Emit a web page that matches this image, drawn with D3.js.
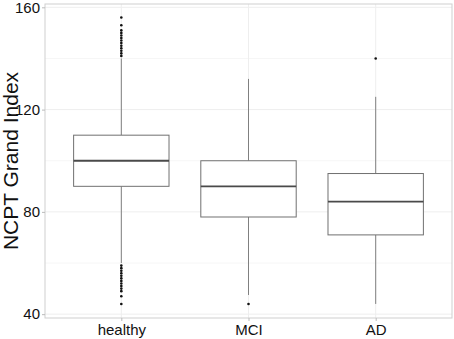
<!DOCTYPE html>
<html lang="en">
  <head>
    <meta charset="utf-8">
    <title>NCPT boxplot</title>
    <script src="https://cdn.jsdelivr.net/npm/d3@7"></script>
    <style>
      body { margin: 0; background: #fff; }
      text { font-family: "Liberation Sans", Arial, sans-serif; }
    </style>
  </head>
  <body>
    <script>
    // groups and their box statistics
    var groups = ["healthy", "MCI", "AD"];
    var lowerWhisker = [60, 47.5, 44];
    var q1 = [90, 78, 71];
    var median = [100, 90, 84];
    var q3 = [110, 100, 95];
    var upperWhisker = [140, 132, 125];
    var outliers = [
      [141, 142, 143, 144, 145, 146, 147, 148, 149, 150, 151, 153, 156,
       59, 58, 57, 56, 55, 54, 53, 52, 51, 50, 49, 47, 44],
      [44],
      [140]
    ];
    var yTicks = [40, 80, 120, 160];
    var yMinorTicks = [60, 100, 140];

    var w = 454, h = 339;
    // panel edges (note: "top" is a reserved window property, so use other names)
    var panelLeft = 45, panelRight = 452, panelTop = 4, panelBottom = 318;

    var svg = d3.select("body").append("svg")
      .attr("width", w)
      .attr("height", h);

    var xScale = d3.scalePoint()
      .domain(groups)
      .range([panelLeft, panelRight])
      .padding(0.6);

    var yScale = d3.scaleLinear()
      .domain([38.5, 161.3])
      .range([panelBottom, panelTop]);

    var boxW = xScale.step() * 0.75;

    // grid
    svg.selectAll(".minor")
      .data(yMinorTicks).enter().append("line")
      .attr("x1", panelLeft).attr("x2", panelRight)
      .attr("y1", function(d) { return yScale(d); })
      .attr("y2", function(d) { return yScale(d); })
      .attr("stroke", "#f6f6f6").attr("stroke-width", 1);

    svg.selectAll(".major")
      .data(yTicks).enter().append("line")
      .attr("x1", panelLeft).attr("x2", panelRight)
      .attr("y1", function(d) { return yScale(d); })
      .attr("y2", function(d) { return yScale(d); })
      .attr("stroke", "#eeeeee").attr("stroke-width", 1);

    svg.selectAll(".vgrid")
      .data(groups).enter().append("line")
      .attr("x1", function(d) { return xScale(d); })
      .attr("x2", function(d) { return xScale(d); })
      .attr("y1", panelTop).attr("y2", panelBottom)
      .attr("stroke", "#eeeeee").attr("stroke-width", 1);

    // boxes
    var g = svg.selectAll(".box")
      .data(groups).enter().append("g")
      .attr("class", "box");

    g.append("line")
      .attr("x1", function(d) { return xScale(d); })
      .attr("x2", function(d) { return xScale(d); })
      .attr("y1", function(d, i) { return yScale(upperWhisker[i]); })
      .attr("y2", function(d, i) { return yScale(q3[i]); })
      .attr("stroke", "#808080").attr("stroke-width", 1);

    g.append("line")
      .attr("x1", function(d) { return xScale(d); })
      .attr("x2", function(d) { return xScale(d); })
      .attr("y1", function(d, i) { return yScale(q1[i]); })
      .attr("y2", function(d, i) { return yScale(lowerWhisker[i]); })
      .attr("stroke", "#808080").attr("stroke-width", 1);

    g.append("rect")
      .attr("x", function(d) { return xScale(d) - boxW / 2; })
      .attr("width", boxW)
      .attr("y", function(d, i) { return yScale(q3[i]); })
      .attr("height", function(d, i) { return yScale(q1[i]) - yScale(q3[i]); })
      .attr("fill", "#fff")
      .attr("stroke", "#707070").attr("stroke-width", 1);

    g.append("line")
      .attr("x1", function(d) { return xScale(d) - boxW / 2; })
      .attr("x2", function(d) { return xScale(d) + boxW / 2; })
      .attr("y1", function(d, i) { return yScale(median[i]); })
      .attr("y2", function(d, i) { return yScale(median[i]); })
      .attr("stroke", "#4a4a4a").attr("stroke-width", 1.8);

    g.selectAll("circle")
      .data(function(d, i) { return outliers[i].map(function(v) { return { g: d, v: v }; }); })
      .enter().append("circle")
      .attr("cx", function(d) { return xScale(d.g); })
      .attr("cy", function(d) { return yScale(d.v); })
      .attr("r", 1.3)
      .attr("fill", "#111");

    // panel border
    svg.append("rect")
      .attr("x", panelLeft).attr("y", panelTop)
      .attr("width", panelRight - panelLeft).attr("height", panelBottom - panelTop)
      .attr("fill", "none")
      .attr("stroke", "#cfcfcf").attr("stroke-width", 1);

    // axes
    var yAxis = d3.axisLeft(yScale).tickValues(yTicks).tickSize(3).tickPadding(2);
    var yG = svg.append("g")
      .attr("transform", "translate(" + panelLeft + ",0)")
      .call(yAxis);

    var xAxis = d3.axisBottom(xScale).tickSize(3).tickPadding(3);
    var xG = svg.append("g")
      .attr("transform", "translate(0," + panelBottom + ")")
      .call(xAxis);

    [yG, xG].forEach(function(a) {
      a.select(".domain").remove();
      a.selectAll(".tick line").attr("stroke", "#bbbbbb");
      a.selectAll(".tick text")
        .attr("fill", "#111")
        .style("font-size", "15px")
        .style("font-family", "'Liberation Sans', Arial, sans-serif");
    });

    svg.append("text")
      .attr("transform", "translate(18," + ((panelTop + panelBottom) / 2) + ") rotate(-90)")
      .attr("text-anchor", "middle")
      .attr("fill", "#111")
      .style("font-size", "21px")
      .text("NCPT Grand Index");
    </script>
  </body>
</html>
